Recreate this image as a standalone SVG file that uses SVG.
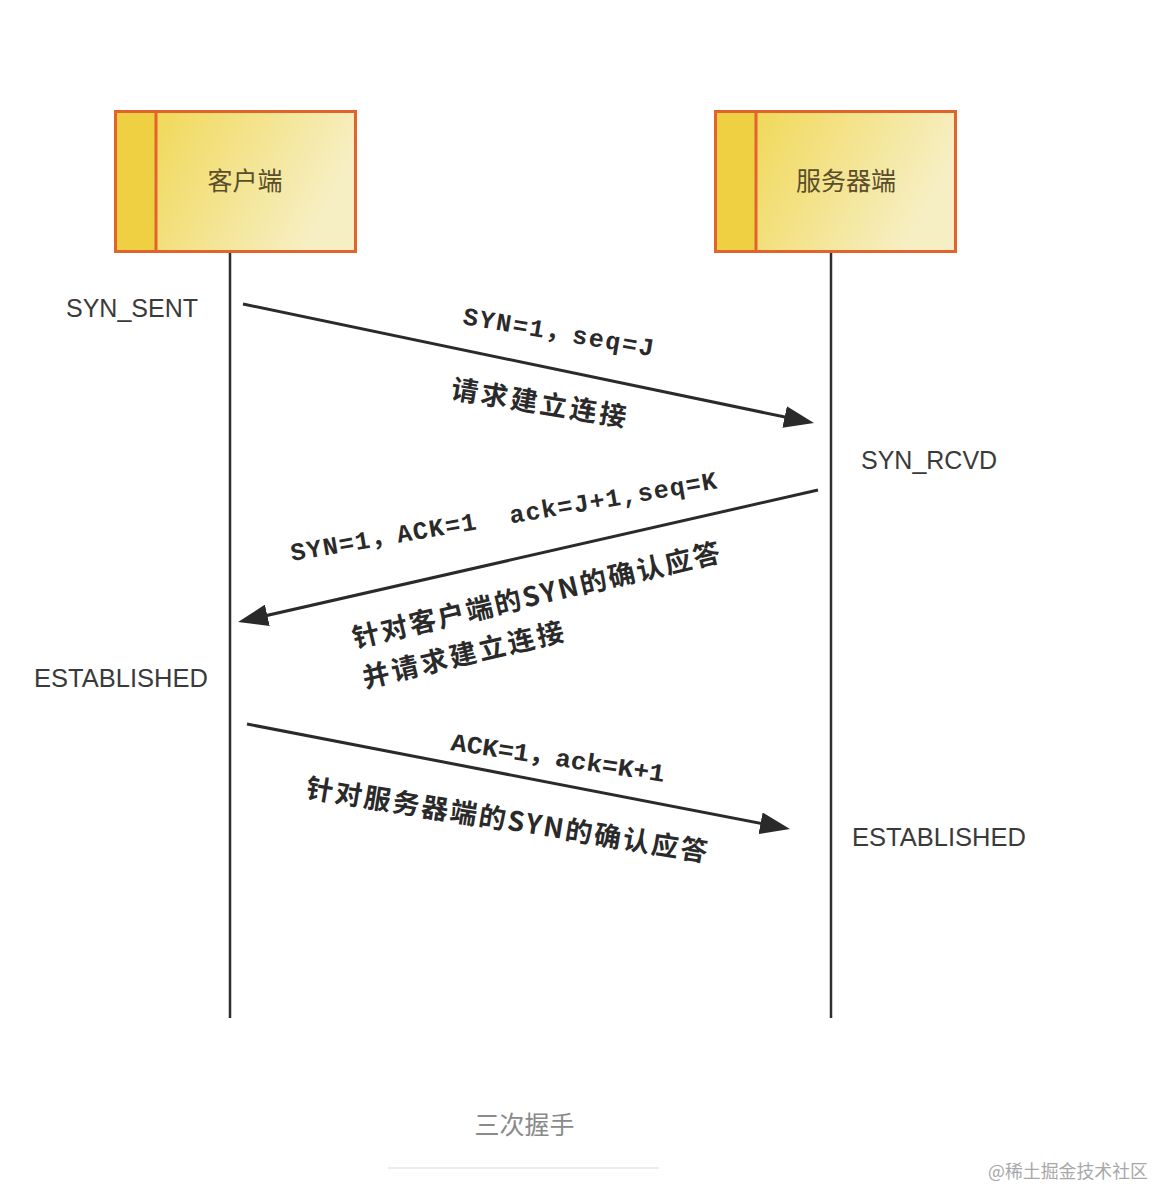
<svg xmlns="http://www.w3.org/2000/svg" width="1154" height="1188" viewBox="0 0 1154 1188">
<defs>
<linearGradient id="boxGrad" x1="0" y1="0" x2="1" y2="0.3">
<stop offset="0" stop-color="#f0d445"/>
<stop offset="1" stop-color="#f6efc4"/>
</linearGradient>
<marker id="arrow" markerUnits="userSpaceOnUse" markerWidth="30" markerHeight="22" refX="20" refY="11" orient="auto">
<path d="M0,0 L30,11 L0,22 z" fill="#2a2a2a"/>
</marker>
</defs>
<style>
.box{fill:url(#boxGrad);stroke:#e2642c;stroke-width:3}
.strip{fill:#efd042;stroke:#e2642c;stroke-width:3}
.boxlabel{font-family:"Noto Sans CJK SC","Noto Sans",sans-serif;font-size:25px;fill:#5a4d2a;text-anchor:middle}
.life{stroke:#2e2e2e;stroke-width:2.5;fill:none}
.msg{stroke:#2a2a2a;stroke-width:3;fill:none;marker-end:url(#arrow)}
.state{font-family:"Liberation Sans",Arial,sans-serif;font-size:25px;fill:#3a3a3a}
.code{font-family:"Liberation Mono","Noto Sans CJK SC",monospace;font-size:25px;font-weight:bold;fill:#2a2a2a}
.cn{font-family:"Noto Sans CJK SC","Liberation Sans",sans-serif;font-size:27px;font-weight:bold;fill:#2a2a2a}
.title{font-family:"Noto Sans CJK SC",sans-serif;font-size:25px;fill:#8a8a8a;text-anchor:middle}
.wm{font-family:"Noto Sans CJK SC",sans-serif;font-size:18px;fill:#a8a8a8}
</style>
<rect width="1154" height="1188" fill="#ffffff"/>

<g id="client">
<rect class="box" x="115.5" y="111.5" width="240" height="140"/>
<rect class="strip" x="115.5" y="111.5" width="40.5" height="140"/>
<text class="boxlabel" x="245" y="190">客户端</text>
</g>

<g id="server">
<rect class="box" x="715.5" y="111.5" width="240" height="140"/>
<rect class="strip" x="715.5" y="111.5" width="40.5" height="140"/>
<text class="boxlabel" x="846" y="190">服务器端</text>
</g>

<g id="lifelines">
<line class="life" x1="230" y1="253" x2="230" y2="1018"/>
<line class="life" x1="831" y1="253" x2="831" y2="1018"/>
</g>

<g id="states">
<text class="state" x="66" y="317">SYN_SENT</text>
<text class="state" x="861" y="469">SYN_RCVD</text>
<text class="state" x="34" y="687" textLength="174" lengthAdjust="spacingAndGlyphs">ESTABLISHED</text>
<text class="state" x="852" y="846" textLength="174" lengthAdjust="spacingAndGlyphs">ESTABLISHED</text>
</g>

<g id="connectors">
<path class="msg" d="M243,304 L804.2,421"/>
<path class="msg" d="M818,490 L247.8,619.8"/>
<path class="msg" d="M247,724 L780.2,827.1"/>
</g>

<g id="labels">
<g transform="translate(462,324) rotate(9.6)">
<text class="code" x="0" y="0" textLength="193" lengthAdjust="spacing">SYN=1，seq=J</text>
</g>
<g transform="translate(450,398) rotate(9.4)">
<text class="cn" x="0" y="0" textLength="177" lengthAdjust="spacing">请求建立连接</text>
</g>
<g transform="translate(292,561) rotate(-9.7)">
<text class="code" x="0" y="0" textLength="188" lengthAdjust="spacing">SYN=1，ACK=1</text>
<text class="code" x="222" y="0" textLength="210" lengthAdjust="spacing">ack=J+1,seq=K</text>
</g>
<g transform="translate(355,648) rotate(-13.3)">
<text class="cn" x="0" y="0" textLength="377" lengthAdjust="spacing">针对客户端的SYN的确认应答</text>
</g>
<g transform="translate(365,688) rotate(-13.4)">
<text class="cn" x="0" y="0" textLength="206" lengthAdjust="spacing">并请求建立连接</text>
</g>
<g transform="translate(450,750) rotate(8.5)">
<text class="code" x="0" y="0" textLength="216" lengthAdjust="spacingAndGlyphs">ACK=1，ack=K+1</text>
</g>
<g transform="translate(305,797) rotate(9.2)">
<text class="cn" x="0" y="0" textLength="406" lengthAdjust="spacing">针对服务器端的SYN的确认应答</text>
</g>
</g>

<g id="caption">
<text class="title" x="524.5" y="1134">三次握手</text>
<line x1="388" y1="1168" x2="659" y2="1168" stroke="#ececec" stroke-width="2"/>
<text class="wm" x="988" y="1178" textLength="160" lengthAdjust="spacingAndGlyphs">@稀土掘金技术社区</text>
</g>
</svg>
